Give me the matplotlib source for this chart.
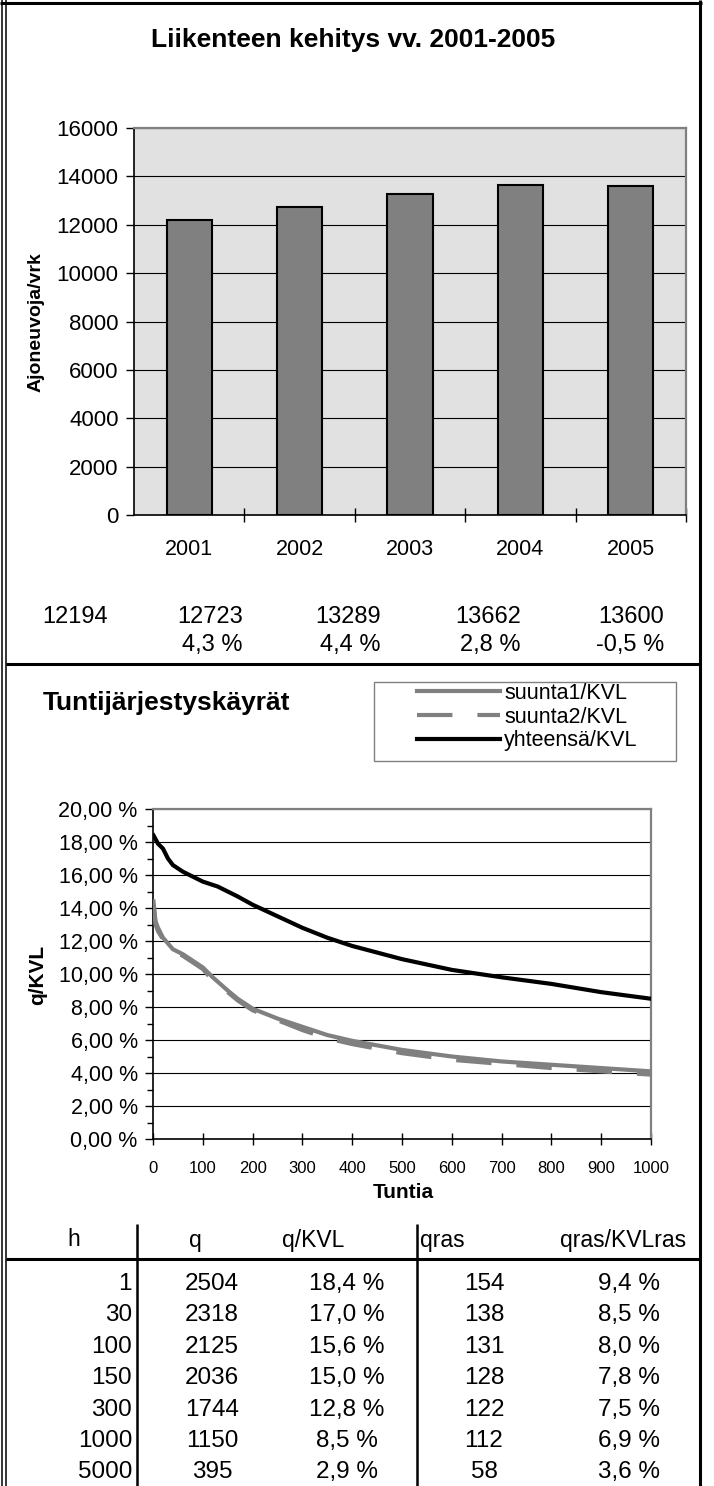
import matplotlib
matplotlib.use("Agg")
import matplotlib.pyplot as plt
from matplotlib.lines import Line2D
from matplotlib.patches import Rectangle
from matplotlib.ticker import FixedLocator, FuncFormatter, MultipleLocator

plt.rcParams['font.family'] = ['Liberation Sans', 'DejaVu Sans']

# ---------------- data ----------------
years = ['2001', '2002', '2003', '2004', '2005']
traffic = [12194, 12723, 13289, 13662, 13600]
traffic_labels = ['12194', '12723', '13289', '13662', '13600']
growth_labels = ['', '4,3 %', '4,4 %', '2,8 %', '-0,5 %']

hours_total = [1, 10, 20, 30, 40, 60, 80, 100, 130, 150, 170, 200, 250, 300, 350,
               400, 450, 500, 600, 700, 800, 900, 1000]
share_total = [18.4, 17.9, 17.6, 17.0, 16.6, 16.2, 15.9, 15.6, 15.3, 15.0, 14.7, 14.2,
               13.5, 12.8, 12.2, 11.7, 11.3, 10.9, 10.25, 9.8, 9.4, 8.9, 8.5]

hours_dir = [1, 5, 10, 20, 40, 60, 80, 100, 120, 150, 170, 200, 250, 300, 350, 400,
             500, 600, 700, 800, 900, 1000]
share_dir1 = [14.4, 13.2, 12.8, 12.2, 11.5, 11.2, 10.8, 10.4, 9.8, 9.0, 8.5, 7.9, 7.3,
              6.8, 6.3, 5.95, 5.4, 5.0, 4.7, 4.5, 4.3, 4.1]
share_dir2 = [14.2, 13.0, 12.6, 12.1, 11.4, 11.1, 10.7, 10.3, 9.6, 8.9, 8.4, 7.8, 7.2,
              6.6, 6.1, 5.75, 5.2, 4.8, 4.55, 4.3, 4.1, 3.9]

tbl_h = ['1', '30', '100', '150', '300', '1000', '5000']
tbl_q = ['2504', '2318', '2125', '2036', '1744', '1150', '395']
tbl_q_kvl = ['18,4 %', '17,0 %', '15,6 %', '15,0 %', '12,8 %', '8,5 %', '2,9 %']
tbl_qras = ['154', '138', '131', '128', '122', '112', '58']
tbl_qras_kvl = ['9,4 %', '8,5 %', '8,0 %', '7,8 %', '7,5 %', '6,9 %', '3,6 %']
tbl_headers = ['h', 'q', 'q/KVL', 'qras', 'qras/KVLras']

# ---------------- layout helpers ----------------
W, H = 714, 1486
fig = plt.figure(figsize=(W / 100, H / 100), dpi=100)
fig.patch.set_facecolor('white')


def rect(l, t, r, b):
    return [l / W, 1 - b / H, (r - l) / W, (b - t) / H]


def fx(x):
    return x / W


def fy(y):
    return 1 - y / H


def hline(y, x0, x1, lw, color='black'):
    fig.add_artist(Line2D([fx(x0), fx(x1)], [fy(y), fy(y)], lw=lw, color=color,
                          transform=fig.transFigure, solid_capstyle='butt'))


def vline(x, y0, y1, lw, color='black'):
    fig.add_artist(Line2D([fx(x), fx(x)], [fy(y0), fy(y1)], lw=lw, color=color,
                          transform=fig.transFigure, solid_capstyle='butt'))


# ---------------- borders ----------------
hline(2.5, 0, 702, 2.2)
vline(1.5, 0, H, 1.1)
vline(6, 0, H, 1.1)
vline(700, 0, H, 2.2)
hline(664.5, 6, 700, 2.2)

# ---------------- bar chart ----------------
fig.text(fx(353), fy(40), 'Liikenteen kehitys vv. 2001-2005', ha='center', va='center',
         fontsize=19, fontweight='bold')

ax1 = fig.add_axes(rect(134, 128, 686, 515))
ax1.set_facecolor('#E1E1E1')
xpos = list(range(len(years)))
ax1.bar(xpos, traffic, width=0.41, color='#808080', edgecolor='black', linewidth=1.5, zorder=3)
ax1.set_xlim(-0.5, len(years) - 0.5)
ax1.set_ylim(0, 16000)
ax1.yaxis.set_major_locator(MultipleLocator(2000))
ax1.grid(axis='y', color='black', linewidth=0.8, zorder=1)
ax1.set_axisbelow(True)
for s in ['left', 'bottom']:
    ax1.spines[s].set_color('black')
    ax1.spines[s].set_linewidth(1.2)
for s in ['top', 'right']:
    ax1.spines[s].set_color('#808080')
    ax1.spines[s].set_linewidth(1.6)
ax1.xaxis.set_major_locator(FixedLocator([i + 0.5 for i in range(len(years))]))
ax1.xaxis.set_minor_locator(FixedLocator(xpos))
ax1.set_xticklabels([], minor=False)
ax1.set_xticklabels(years, minor=True)
ax1.tick_params(axis='x', which='major', direction='inout', length=10, width=1, color='black')
ax1.tick_params(axis='x', which='minor', length=0, pad=17, labelsize=15.5)
ax1.tick_params(axis='y', direction='out', length=6, width=1, labelsize=16, pad=5)
fig.text(fx(36), fy(322), 'Ajoneuvoja/vrk', rotation=90, ha='center', va='center',
         fontsize=14, fontweight='bold')

num_right = [108, 243, 381, 521, 664]
for xr, t1, t2 in zip(num_right, traffic_labels, growth_labels):
    fig.text(fx(xr), fy(617), t1, ha='right', va='center', fontsize=17)
    if t2:
        fig.text(fx(xr), fy(645), t2, ha='right', va='center', fontsize=17)

# ---------------- line chart ----------------
fig.text(fx(43), fy(703), 'Tuntijärjestyskäyrät', ha='left', va='center',
         fontsize=19, fontweight='bold')

ax2 = fig.add_axes(rect(153, 809, 651, 1139))
ax2.set_facecolor('white')
l1, = ax2.plot(hours_dir, share_dir1, color='#808080', lw=3, label='suunta1/KVL', zorder=3)
l2, = ax2.plot(hours_dir, share_dir2, color='#808080', lw=3, dashes=(8.5, 6),
               label='suunta2/KVL', zorder=3)
l3, = ax2.plot(hours_total, share_total, color='black', lw=3, label='yhteensä/KVL', zorder=4)
ax2.set_xlim(0, 1000)
ax2.set_ylim(0, 20)
ax2.yaxis.set_major_locator(MultipleLocator(2))
ax2.yaxis.set_minor_locator(MultipleLocator(1))
ax2.xaxis.set_major_locator(MultipleLocator(100))
ax2.yaxis.set_major_formatter(FuncFormatter(lambda v, p: f'{v:.2f} %'.replace('.', ',')))
ax2.grid(axis='y', which='major', color='black', linewidth=0.8, zorder=1)
for s in ['left', 'bottom']:
    ax2.spines[s].set_color('black')
    ax2.spines[s].set_linewidth(1.2)
for s in ['top', 'right']:
    ax2.spines[s].set_color('#808080')
    ax2.spines[s].set_linewidth(1.6)
ax2.tick_params(axis='y', which='major', direction='out', length=6, width=1,
                labelsize=15.5, pad=5)
ax2.tick_params(axis='y', which='minor', direction='out', length=4, width=1)
ax2.tick_params(axis='x', which='major', direction='inout', length=8, width=1,
                labelsize=12, pad=12)
fig.text(fx(38), fy(975), 'q/KVL', rotation=90, ha='center', va='center',
         fontsize=15, fontweight='bold')
fig.text(fx(403), fy(1193), 'Tuntia', ha='center', va='center', fontsize=15,
         fontweight='bold')

fig.add_artist(Rectangle((fx(374), fy(761)), fx(676) - fx(374), fy(682) - fy(761),
                         transform=fig.transFigure, facecolor='white',
                         edgecolor='#808080', linewidth=1.0))
leg = fig.legend(handles=[l1, l2, l3], loc='upper left',
                 bbox_to_anchor=(fx(417), fy(683)), bbox_transform=fig.transFigure,
                 fontsize=15.5, frameon=False, handlelength=3.86,
                 handletextpad=0.2, borderpad=0.0, labelspacing=0.12,
                 borderaxespad=0)

# ---------------- table ----------------
hline(1258.5, 6, 700, 2.2)
vline(137, 1224, H, 1.8)
vline(417, 1224, H, 1.8)

fig.text(fx(74), fy(1240), tbl_headers[0], ha='center', va='center', fontsize=16.5)
fig.text(fx(195), fy(1240), tbl_headers[1], ha='center', va='center', fontsize=16.5)
fig.text(fx(313), fy(1240), tbl_headers[2], ha='center', va='center', fontsize=16.5)
fig.text(fx(420), fy(1240), tbl_headers[3], ha='left', va='center', fontsize=16.5)
fig.text(fx(623), fy(1240), tbl_headers[4], ha='center', va='center', fontsize=16.5)

row_y = [1284, 1315, 1347, 1378, 1410, 1441, 1472]
for i, y in enumerate(row_y):
    fig.text(fx(132), fy(y), tbl_h[i], ha='right', va='center', fontsize=17.5)
    fig.text(fx(212), fy(y), tbl_q[i], ha='center', va='center', fontsize=17.5)
    fig.text(fx(347), fy(y), tbl_q_kvl[i], ha='center', va='center', fontsize=17.5)
    fig.text(fx(484), fy(y), tbl_qras[i], ha='center', va='center', fontsize=17.5)
    fig.text(fx(660), fy(y), tbl_qras_kvl[i], ha='right', va='center', fontsize=17.5)

fig.savefig('out.png', dpi=100, facecolor='white')
